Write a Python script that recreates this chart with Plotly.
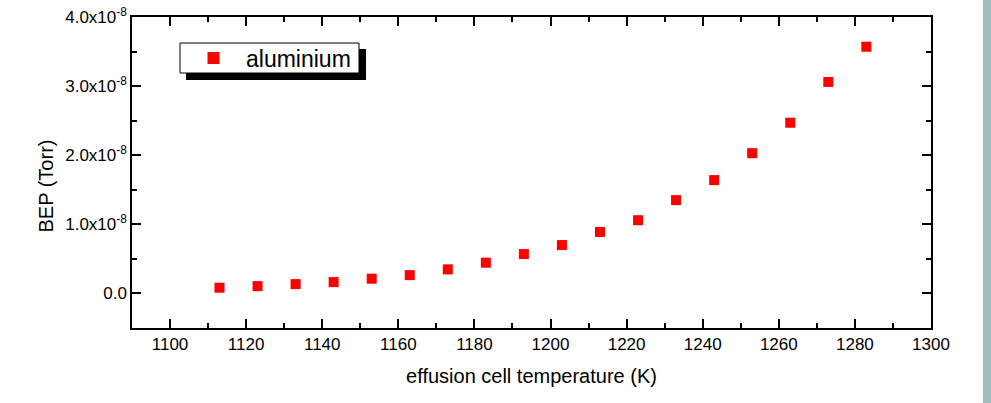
import plotly.graph_objects as go

temperature_K = [1113, 1123, 1133, 1143, 1153, 1163, 1173, 1183, 1193, 1203,
                 1213, 1223, 1233, 1243, 1253, 1263, 1273, 1283]
bep_torr = [0.083e-8, 0.106e-8, 0.135e-8, 0.164e-8, 0.213e-8, 0.265e-8, 0.348e-8,
            0.445e-8, 0.57e-8, 0.70e-8, 0.89e-8, 1.06e-8, 1.35e-8, 1.64e-8,
            2.03e-8, 2.47e-8, 3.06e-8, 3.57e-8]
series_name = "aluminium"

y_tick_vals = [0.0, 1.0e-8, 2.0e-8, 3.0e-8, 4.0e-8]
y_tick_text = ["0.0", "1.0x10<sup>-8</sup>", "2.0x10<sup>-8</sup>",
               "3.0x10<sup>-8</sup>", "4.0x10<sup>-8</sup>"]
x_tick_vals = [1100, 1120, 1140, 1160, 1180, 1200, 1220, 1240, 1260, 1280, 1300]
x_title = "effusion cell temperature (K)"
y_title = "BEP (Torr)"

FONT = "Liberation Sans, Arial, sans-serif"

fig = go.Figure()
fig.add_trace(go.Scatter(
    x=temperature_K, y=bep_torr, mode="markers", name=series_name,
    marker=dict(symbol="square", size=10, color="#ff0000", line=dict(width=0)),
))

axis_common = dict(
    showline=True, linecolor="black", linewidth=1.5, mirror="ticks",
    ticks="inside", ticklen=9, tickwidth=1.5, tickcolor="black",
    showgrid=False, zeroline=False, automargin=False, ticklabeloverflow="allow",
    tickfont=dict(family=FONT, size=17, color="black"),
)

fig.update_xaxes(
    range=[1090, 1300], tickvals=x_tick_vals,
    minor=dict(ticks="inside", ticklen=5, tickwidth=1.5, tickcolor="black", dtick=10, tick0=1090),
    title=dict(text=x_title, standoff=16,
               font=dict(family=FONT, size=20, color="black")),
    **axis_common,
)
fig.update_yaxes(
    range=[-0.5e-8, 4.0e-8], tickvals=y_tick_vals, ticktext=y_tick_text,
    minor=dict(ticks="inside", ticklen=5, tickwidth=1.5, tickcolor="black", dtick=0.5e-8, tick0=-0.5e-8),
    **axis_common,
)

# y-axis title (placed slightly below the plot centre, as in the original)
fig.add_annotation(text=y_title, xref="paper", yref="paper",
                   x=(45 - 132) / 799, y=(328 - 186.5) / 311,
                   xanchor="center", yanchor="middle", textangle=-90, showarrow=False,
                   font=dict(family=FONT, size=20, color="black"))

# legend frame: shadow then white box
fig.add_shape(type="rect", xref="paper", yref="paper",
              x0=(186 - 132) / 799, x1=(366 - 132) / 799,
              y0=(328 - 80) / 311, y1=(328 - 49) / 311,
              fillcolor="black", line=dict(width=0), layer="above")
fig.add_shape(type="rect", xref="paper", yref="paper",
              x0=(180 - 132) / 799, x1=(359 - 132) / 799,
              y0=(328 - 73) / 311, y1=(328 - 43) / 311,
              fillcolor="white", line=dict(color="black", width=1), layer="above")
# right decorative strip
fig.add_shape(type="rect", xref="paper", yref="paper",
              x0=(983 - 132) / 799, x1=(1000 - 132) / 799, y0=-0.4, y1=1.2,
              fillcolor="#9fbfbf", line=dict(width=0), layer="above")

fig.update_layout(
    width=991, height=403,
    margin=dict(l=132, r=60, t=17, b=75),
    paper_bgcolor="white", plot_bgcolor="white",
    showlegend=True,
    legend=dict(
        x=(181 - 132) / 799, y=(328 - 36.5) / 311, xanchor="left", yanchor="top",
        bgcolor="rgba(0,0,0,0)", borderwidth=0,
        font=dict(family=FONT, size=23, color="black"),
        itemwidth=55, itemsizing="constant",
    ),
)

fig.write_html("out.html",
               config={"displayModeBar": False},
               post_script="document.body.style.margin='0';document.body.style.overflow='hidden';")
